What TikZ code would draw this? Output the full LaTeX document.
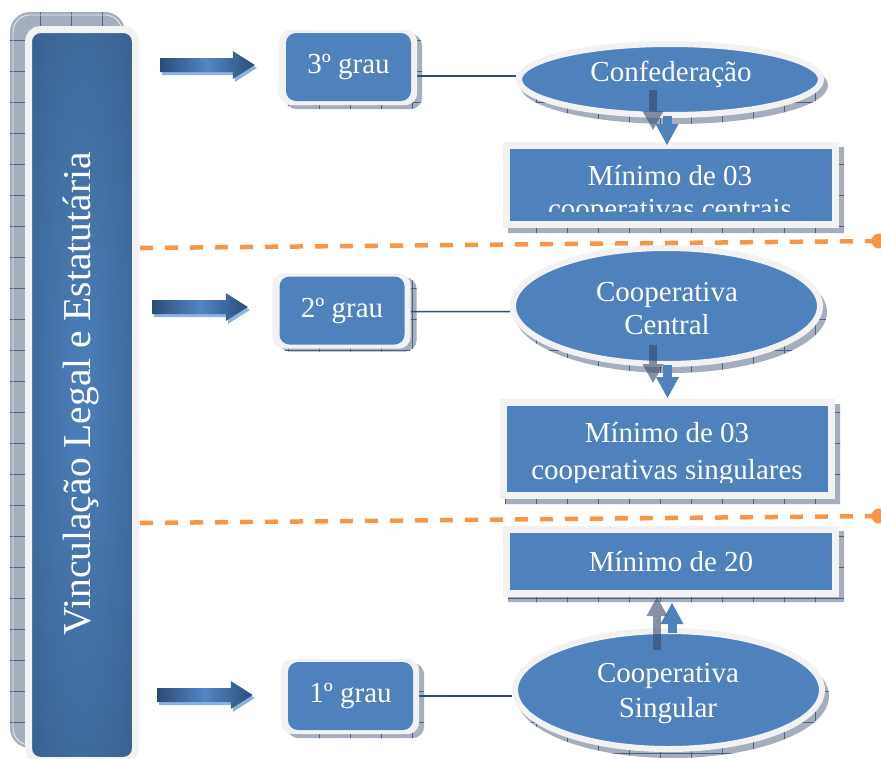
\documentclass[tikz,border=0pt]{standalone}
\usepackage{fontspec}
\setmainfont{Liberation Serif}
\usetikzlibrary{calc,arrows.meta,shapes.geometric}

\definecolor{boxblue}{HTML}{4F81BD}
\definecolor{rim}{HTML}{F2F2F2}
\definecolor{shadowfill}{HTML}{A4AEBD}
\definecolor{gridcol}{HTML}{4A6185}
\definecolor{linkcol}{HTML}{2B4E7E}
\definecolor{sepcol}{HTML}{F79646}
\definecolor{arrdark}{HTML}{2C4C77}
\definecolor{arrlight}{HTML}{5286C4}
\definecolor{arrshade}{HTML}{8DB3E2}
\definecolor{ghost}{HTML}{34496A}
\definecolor{bardark}{HTML}{2F5079}
\definecolor{barmid}{HTML}{3D6798}
\definecolor{barlight}{HTML}{4C7FBA}

\pgfdeclarelayer{background}
\pgfsetlayers{background,main}

% lighter core, darker rim for the tall title bar
\pgfdeclareradialshading{barglow}{\pgfpoint{0bp}{0bp}}{color(0bp)=(barlight); color(28bp)=(barmid); color(50bp)=(bardark)}

% horizontal block arrow with a soft offset shadow
\newcommand\blockarrow[2]{%
  \fill[arrshade] let \p1=#1, \p2=#2 in
    ({\x1+2pt},{\y1+4pt}) -- ({\x2-20pt},{\y1+4pt}) -- ({\x2-20pt},{\y1+11pt}) --
    ({\x2+2pt},{\y1-3pt}) -- ({\x2-20pt},{\y1-17pt}) -- ({\x2-20pt},{\y1-10pt}) --
    ({\x1+2pt},{\y1-10pt}) -- cycle;
  \shade[left color=arrdark, right color=arrdark, middle color=arrlight] let \p1=#1, \p2=#2 in
    (\x1,{\y1+7pt}) -- ({\x2-22pt},{\y1+7pt}) -- ({\x2-22pt},{\y1+14pt}) --
    (\x2,\y1) -- ({\x2-22pt},{\y1-14pt}) -- ({\x2-22pt},{\y1-7pt}) --
    (\x1,{\y1-7pt}) -- cycle;
}

\begin{document}
\begin{tikzpicture}[x=1pt, y=-1pt,
  bigfont/.style={font=\fontsize{29pt}{33pt}\selectfont},
  titlebar/.style={rectangle, rounded corners=12pt, minimum width=731pt, minimum height=107pt,
    inner sep=0pt, draw=rim, line width=7pt, shade, shading=barglow},
  titletext/.style={text=white, inner sep=0pt, anchor=base, font=\fontsize{39.5pt}{42pt}\selectfont},
  gradebox/.style={rectangle, rounded corners=10pt, fill=boxblue, minimum width=125pt,
    minimum height=68pt, inner sep=0pt, text=white, bigfont},
  oval/.style={ellipse, fill=boxblue, draw=rim, line width=6pt, inner sep=0pt},
  plate/.style={rectangle, fill=boxblue, draw=rim, line width=7pt, inner sep=0pt, text=white, bigfont},
  lbl/.style={text=white, inner sep=0pt, anchor=base, bigfont},
  link/.style={draw=linkcol, line width=1.5pt},
  flow/.style={draw=boxblue, line width=9pt, -{Triangle[width=23pt,length=21pt,line width=0pt]}},
  ghostflow/.style={draw=ghost, opacity=0.6, line width=8pt, -{Triangle[width=21pt,length=19pt,line width=0pt]}},
  separator/.style={draw=sepcol, line width=4.5pt, dash pattern=on 13pt off 12pt},
  gridline/.style={draw=gridcol, line width=0.7pt},
]
\useasboundingbox (0,0) rectangle (881,758);

% ---- main shapes ----
\node[titlebar, rotate=90] (vlab) at (82,395) {};

\node[gradebox] (g3) at (348.5,67) {3º grau};
\node[gradebox] (g2) at (342,310.5) {2º grau};
\node[gradebox] (g1) at (350.5,696) {1º grau};

\node[oval, minimum width=302pt, minimum height=71pt] (conf) at (670,79.5) {};
\node[oval, minimum width=307pt, minimum height=116pt] (cent) at (666.5,306) {};
\node[oval, minimum width=307pt, minimum height=118pt] (sing) at (668.5,690) {};

\node[plate, minimum width=329pt, minimum height=79pt] (min3) at (671,185) {};
\node[plate, minimum width=328pt, minimum height=93pt] (min2) at (667.5,449) {};
\node[plate, minimum width=329pt, minimum height=64pt] (min20) at (671,561.5) {Mínimo de 20};

% ---- shadows, links and frames behind the shapes ----
\begin{pgfonlayer}{background}
  \begin{scope}
    \clip[rounded corners=20pt] (10,12) rectangle (125,748)
      [rounded corners=12pt]
      ($(g3.north west)+(-1,1)$) rectangle ($(g3.south east)+(11,8)$)
      ($(g2.north west)+(-1,1)$) rectangle ($(g2.south east)+(12,7)$)
      ($(g1.north west)+(-1,1)$) rectangle ($(g1.south east)+(11,8)$)
      [sharp corners]
      ($(min3.north west)+(5,5)$) rectangle ($(min3.south east)+(5,5)$)
      ($(min2.north west)+(5,5)$) rectangle ($(min2.south east)+(5,5)$)
      ($(min20.north west)+(5,5)$) rectangle ($(min20.south east)+(5,5)$)
      ($(conf)+(4,6)$) ellipse [x radius=154pt, y radius=38.5pt]
      ($(cent)+(4,6)$) ellipse [x radius=156.5pt, y radius=61pt]
      ($(sing)+(4,6)$) ellipse [x radius=156.5pt, y radius=62pt];
    \fill[shadowfill] (0,0) rectangle (881,758);
    \foreach \k in {0,...,28} {
      \draw[gridline] ({9.5+31*\k},0) -- ({9.5+31*\k},758);
    }
    \foreach \k in {0,...,24} {
      \draw[gridline] (0,{9.5+31*\k}) -- (881,{9.5+31*\k});
    }
  \end{scope}
  \draw[white, line width=0.8pt, opacity=0.8, rounded corners=17pt] (13,15) rectangle (122,745);

  \draw[link] ([yshift=-9pt]g3.east) -- ([yshift=3.5pt]conf.west);
  \draw[link] ([yshift=-1pt]g2.east) -- ([yshift=-5.7pt]cent.west);
  \draw[link] (g1.east) -- ([yshift=-6pt]sing.west);

  \foreach \g in {g3,g2,g1} {
    \fill[rim, rounded corners=12pt] ($(\g.north west)+(-7,-3)$) rectangle ($(\g.south east)+(6,4)$);
  }
\end{pgfonlayer}

% ---- labels ----
\node[titletext, rotate=90] (vtxt) at (90,394) {Vinculação Legal e Estatutária};

\node[lbl] (tconf) at (671,81) {Confederação};
\node[lbl] (tcent1) at (667,301) {Cooperativa};
\node[lbl] (tcent2) at (667,334) {Central};
\node[lbl] (tsing1) at (668,682) {Cooperativa};
\node[lbl] (tsing2) at (668,717) {Singular};

\begin{scope}
  \clip (min3.north west) rectangle ($(min3.south east)+(0,-17)$);
  \node[lbl] (tm3a) at (670,185) {Mínimo de 03};
  \node[lbl] (tm3b) at (670,218) {cooperativas centrais};
\end{scope}
\begin{scope}
  \clip (min2.north west) rectangle ($(min2.south east)+(0,-17)$);
  \node[lbl] (tm2a) at (667,442) {Mínimo de 03};
  \node[lbl] (tm2b) at (667,479) {cooperativas singulares};
\end{scope}

% ---- vertical flow arrows ----
\draw[flow] ($(conf.south)+(-3,-2)$) -- ($(min3.north)+(-4,3)$);
\draw[flow] ($(cent.south)+(1,-2)$) -- ($(min2.north)+(0,-1)$);
\draw[flow] ($(sing.north)+(3.5,5)$) -- ($(min20.south)+(1,6)$);

\draw[ghostflow] ($(conf.south)+(-17,-28)$) -- ($(min3.north)+(-18,-12)$);
\draw[ghostflow] ($(cent.south)+(-13.5,-22)$) -- ($(min2.north)+(-14.5,-16)$);
\draw[ghostflow] ($(sing.north)+(-11.5,22)$) -- ($(min20.south)+(-14,0)$);

% ---- block arrows from the title bar to each level ----
\blockarrow{($(vlab.south |- g3.west)+(21,-2)$)}{($(g3.west)+(-31,-2)$)}
\blockarrow{($(vlab.south |- g2.west)+(13,-3.5)$)}{($(g2.west)+(-31.5,-3.5)$)}
\blockarrow{($(vlab.south |- g1.west)+(18,-1)$)}{($(g1.west)+(-35,-1)$)}

% ---- level separators ----
\coordinate (s1L) at (140,248);
\coordinate (s1R) at (879,241);
\coordinate (s2L) at (140,523);
\coordinate (s2R) at (879,516);
\draw[separator] (s1L) -- (s1R);
\draw[separator] (s2L) -- (s2R);
\fill[sepcol] (s1R) circle[radius=7.5pt];
\fill[sepcol] (s2R) circle[radius=7.5pt];
\end{tikzpicture}
\end{document}
